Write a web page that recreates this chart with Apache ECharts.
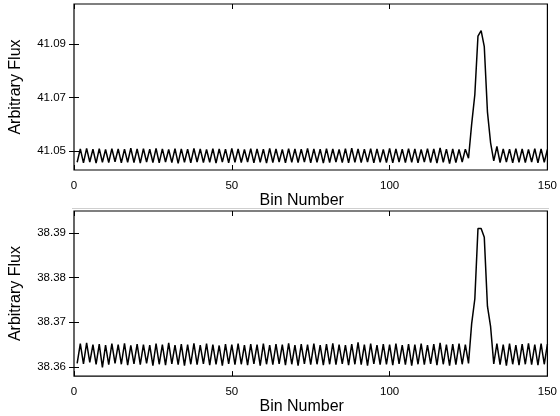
<!DOCTYPE html>
<html>
<head>
<meta charset="utf-8">
<title>Arbitrary Flux</title>
<script src="https://cdn.jsdelivr.net/npm/echarts@6/dist/echarts.min.js"></script>
<style>
    html, body { margin: 0; padding: 0; background: #fff; }
    #chartBox { width: 560px; height: 416px; }
</style>
</head>
<body>
<div id="chartBox"></div>
<script>
// x ticks shared by both panels
var binTicks = [0, 50, 100, 150];
// y tick labels
var topTicks = [41.05, 41.07, 41.09];
var bottomTicks = [38.36, 38.37, 38.38, 38.39];

// flux per bin, bins 1..150
var topFlux = [
    41.0457, 41.0507, 41.0455, 41.0509, 41.0458, 41.0506, 41.0454, 41.0508, 41.0457, 41.0505,
    41.0456, 41.0508, 41.0459, 41.0507, 41.0455, 41.0506, 41.0457, 41.0510, 41.0456, 41.0507,
    41.0454, 41.0508, 41.0458, 41.0506, 41.0456, 41.0509, 41.0455, 41.0507, 41.0458, 41.0505,
    41.0456, 41.0508, 41.0453, 41.0507, 41.0457, 41.0506, 41.0455, 41.0509, 41.0458, 41.0507,
    41.0456, 41.0505, 41.0457, 41.0508, 41.0454, 41.0507, 41.0458, 41.0506, 41.0455, 41.0509,
    41.0457, 41.0507, 41.0456, 41.0505, 41.0458, 41.0508, 41.0455, 41.0507, 41.0457, 41.0506,
    41.0454, 41.0509, 41.0456, 41.0507, 41.0458, 41.0505, 41.0455, 41.0508, 41.0457, 41.0507,
    41.0456, 41.0506, 41.0458, 41.0509, 41.0455, 41.0507, 41.0457, 41.0506, 41.0454, 41.0508,
    41.0456, 41.0507, 41.0458, 41.0505, 41.0456, 41.0508, 41.0455, 41.0510, 41.0457, 41.0507,
    41.0456, 41.0506, 41.0458, 41.0508, 41.0455, 41.0507, 41.0457, 41.0505, 41.0456, 41.0509,
    41.0455, 41.0507, 41.0458, 41.0506, 41.0456, 41.0508, 41.0457, 41.0507, 41.0455, 41.0505,
    41.0458, 41.0508, 41.0456, 41.0507, 41.0454, 41.0511, 41.0457, 41.0506, 41.0452, 41.0507,
    41.0456, 41.0505, 41.0458, 41.0506,
    41.0472, 41.0600, 41.0710, 41.0930, 41.0950, 41.0890, 41.0646, 41.0530, 41.0462, 41.0516,
    41.0456, 41.0507, 41.0458, 41.0506, 41.0455, 41.0508, 41.0457, 41.0507, 41.0456, 41.0505,
    41.0458, 41.0508, 41.0455, 41.0507, 41.0457, 41.0505
];
var bottomFlux = [
    38.3608, 38.3652, 38.3607, 38.3654, 38.3610, 38.3650, 38.3606, 38.3651, 38.3599, 38.3649,
    38.3605, 38.3652, 38.3608, 38.3650, 38.3606, 38.3653, 38.3604, 38.3648, 38.3607, 38.3651,
    38.3605, 38.3650, 38.3608, 38.3649, 38.3603, 38.3652, 38.3606, 38.3650, 38.3604, 38.3654,
    38.3607, 38.3649, 38.3605, 38.3651, 38.3603, 38.3650, 38.3606, 38.3653, 38.3605, 38.3649,
    38.3607, 38.3652, 38.3604, 38.3650, 38.3606, 38.3648, 38.3603, 38.3651, 38.3607, 38.3650,
    38.3605, 38.3652, 38.3606, 38.3649, 38.3604, 38.3651, 38.3607, 38.3650, 38.3603, 38.3652,
    38.3606, 38.3649, 38.3605, 38.3651, 38.3607, 38.3650, 38.3604, 38.3653, 38.3606, 38.3649,
    38.3603, 38.3651, 38.3607, 38.3650, 38.3605, 38.3652, 38.3606, 38.3649, 38.3604, 38.3651,
    38.3606, 38.3653, 38.3605, 38.3650, 38.3607, 38.3649, 38.3604, 38.3651, 38.3606, 38.3655,
    38.3605, 38.3650, 38.3603, 38.3652, 38.3607, 38.3649, 38.3605, 38.3651, 38.3606, 38.3650,
    38.3604, 38.3652, 38.3607, 38.3649, 38.3605, 38.3651, 38.3603, 38.3650, 38.3606, 38.3652,
    38.3605, 38.3649, 38.3607, 38.3651, 38.3604, 38.3654, 38.3606, 38.3650, 38.3603, 38.3651,
    38.3605, 38.3652, 38.3606, 38.3650,
    38.3608, 38.3697, 38.3752, 38.3910, 38.3910, 38.3890, 38.3736, 38.3690, 38.3607, 38.3652,
    38.3605, 38.3650, 38.3603, 38.3652, 38.3606, 38.3649, 38.3604, 38.3651, 38.3606, 38.3653,
    38.3605, 38.3650, 38.3604, 38.3652, 38.3606, 38.3651
];

var font = 'Liberation Sans, Arial, Helvetica, sans-serif';

function toPoints(arr) {
    return arr.map(function (v, i) { return [i + 1, v]; });
}

// bottom x axis with labels and name, plus a bare mirror on top
function binAxes(grid) {
    return [
        {
            gridIndex: grid, type: 'value', position: 'bottom',
            min: 0, max: 150, interval: 50,
            name: 'Bin Number', nameLocation: 'middle', nameGap: 18,
            nameTextStyle: { color: '#000', fontSize: 16, fontFamily: font, padding: [0, 18, 0, 0] },
            axisLine: { show: false },
            axisTick: { inside: true, length: 5, lineStyle: { color: '#000' } },
            axisLabel: { color: '#000', fontSize: 11.5, fontFamily: font, margin: 10,
                customValues: binTicks },
            splitLine: { show: false }
        },
        {
            gridIndex: grid, type: 'value', position: 'top',
            min: 0, max: 150, interval: 50,
            axisLine: { show: false },
            axisTick: { inside: true, length: 5, lineStyle: { color: '#000' } },
            axisLabel: { show: false },
            splitLine: { show: false }
        }
    ];
}

function fluxAxes(grid, lo, hi, ticks) {
    return [
        {
            gridIndex: grid, type: 'value', position: 'left',
            min: lo, max: hi, scale: true,
            name: 'Arbitrary Flux', nameLocation: 'middle', nameGap: 50,
            nameTextStyle: { color: '#000', fontSize: 16, fontFamily: font },
            axisLine: { show: false },
            axisTick: { inside: true, length: 5, lineStyle: { color: '#000' }, customValues: ticks },
            axisLabel: { color: '#000', fontSize: 11.5, fontFamily: font, margin: 8,
                customValues: ticks,
                formatter: function (v) { return Number(v).toFixed(2); } },
            splitLine: { show: false }
        },
        {
            gridIndex: grid, type: 'value', position: 'right',
            min: lo, max: hi, scale: true,
            axisLine: { show: false },
            axisTick: { inside: true, length: 5, lineStyle: { color: '#000' }, customValues: ticks },
            axisLabel: { show: false },
            splitLine: { show: false }
        }
    ];
}

var chartLine = echarts.init(document.getElementById('chartBox'));
var option = {
    animation: false,
    backgroundColor: '#fff',
    grid: [
        { left: 72, right: 11, top: 4, height: 166, show: true, borderColor: '#000', borderWidth: 1.2, backgroundColor: 'transparent' },
        { left: 72, right: 11, top: 211, height: 167, show: true, borderColor: '#000', borderWidth: 1.2, backgroundColor: 'transparent' }
    ],
    xAxis: binAxes(0).concat(binAxes(1)),
    yAxis: fluxAxes(0, 41.0428, 41.105, topTicks).concat(fluxAxes(1, 38.35795, 38.3949, bottomTicks)),
    series: [
        {
            type: 'line', xAxisIndex: 0, yAxisIndex: 0,
            data: toPoints(topFlux), symbol: 'none',
            lineStyle: { color: '#000', width: 1.5 }
        },
        {
            type: 'line', xAxisIndex: 2, yAxisIndex: 2,
            data: toPoints(bottomFlux), symbol: 'none',
            lineStyle: { color: '#000', width: 1.5 }
        }
    ],
    graphic: [
        // faint rule between the two panels, as in the source figure
        { type: 'line', shape: { x1: 72, y1: 208.5, x2: 549, y2: 208.5 },
          style: { stroke: '#cfcfcf', lineWidth: 1 }, silent: true }
    ]
};
chartLine.setOption(option);
</script>
</body>
</html>
